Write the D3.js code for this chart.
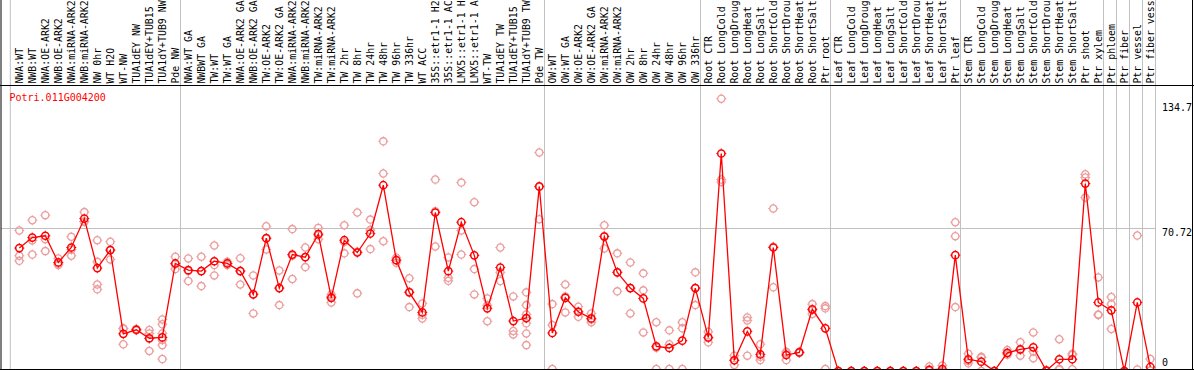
<!DOCTYPE html>
<html>
<head>
<meta charset="utf-8">
<script src="https://cdn.jsdelivr.net/npm/d3@7"></script>
<style>
  body { margin: 0; background: #fff; }
  text { font-family: "DejaVu Sans Mono", monospace; font-size: 10px; }
  text.lab { font-size: 9.9px; }
</style>
</head>
<body>
<div id="my_chart"></div>
<script>
// sample names, left to right (as printed, the long ones are cut)
var samples = ["NWA:WT","NWB:WT","NWA:OE-ARK2","NWB:OE-ARK2","NWA:miRNA-ARK2","NWB:miRNA-ARK2","NW 0hr","WT H2O","WT-NW","TUA1dEY NW","TUA1dEY+TUB15","TUA1dY+TUB9 NW","Pde NW",
  "NWA:WT GA","NWBWT GA","TW:WT","TW:WT GA","NWA:OE-ARK2 GA","NWB:OE-ARK2 GA","TW:OE-ARK2","TW:OE-ARK2 GA","NWA:miRNA-ARK2 ","NWB:miRNA-ARK2 ","TW:miRNA-ARK2","TW:miRNA-ARK2 ",
  "TW 2hr","TW 8hr","TW 24hr","TW 48hr","TW 96hr","TW 336hr","WT ACC","35S::etr1-1 H2","35S::etr1-1 AC","LMX5::etr1-1 H","LMX5::etr1-1 A","WT-TW","TUA1dEY TW","TUA1dEY+TUB15 ","TUA1dY+TUB9 TW","Pde TW",
  "OW:WT","OW:WT GA","OW:OE-ARK2","OW:OE-ARK2 GA","OW:miRNA-ARK2","OW:miRNA-ARK2 ","OW 2hr","OW 8hr","OW 24hr","OW 48hr","OW 96hr","OW 336hr",
  "Root CTR","Root LongCold","Root LongDroug","Root LongHeat","Root LongSalt","Root ShortCold","Root ShortDrou","Root ShortHeat","Root ShortSalt","Ptr root",
  "Leaf CTR","Leaf LongCold","Leaf LongDroug","Leaf LongHeat","Leaf LongSalt","Leaf ShortCold","Leaf ShortDrou","Leaf ShortHeat","Leaf ShortSalt","Ptr leaf",
  "Stem CTR","Stem LongCold","Stem LongDroug","Stem LongHeat","Stem LongSalt","Stem ShortCold","Stem ShortDrou","Stem ShortHeat","Stem ShortSalt","Ptr shoot",
  "Ptr xylem","Ptr phloem","Ptr fiber","Ptr vessel","Ptr fiber vess"];

// mean expression (red line)
var means = [60.8,66.0,66.9,53.7,61.1,75.4,50.9,59.8,18.4,20.4,16.2,16.6,53.2,
  49.9,49.4,54.3,53.2,49.4,37.9,65.7,41.0,57.6,56.3,67.7,36.2,
  64.7,58.6,68.0,91.9,54.8,38.9,29.0,78.4,49.4,73.6,57.2,31.0,51.2,24.7,26.2,91.3,
  18.8,36.2,29.3,26.0,66.5,48.8,41.0,35.9,12.2,11.4,15.0,41.0,
  16.6,107.6,5.3,19.6,8.2,61.1,7.9,9.2,30.5,21.1,
  0,0,0,0,0,0,0,0.6,0.9,57.3,
  5.8,4.6,0,9.0,10.7,11.7,0.2,5.8,5.8,92.7,
  33.9,30.0,0,33.9,2.0];

// replicate values (pale circles)
var replicates = [[69.5,57.0,54.5],[74.6,64.6,57.6],[77.1,65.2,59.3],[55.7,53.0,52.4],[66.4,60.0,57.0],[78.6,73.8,74.0],
  [64.7,54.0,42.8,40.4],[63.9,59.8,55.2],[21.1,20.9,13.2],[20.8,20.2,20.3],[20.3,18.6,16.0,9.9],[25.5,23.1,18.6,15.3,12.8,5.9],[56.5,52.8,50.4],
  [55.7,49.5,44.5],[56.5,49.5,42.0],[62.1,52.4,47.3],[54.0,53.2,52.4],[55.8,49.6,42.8],[47.3,38.0,28.5],[71.6,65.5,60.1],[49.7,41.0,32.6],
  [70.2,57.0,45.5],[61.1,56.4,51.4],[70.8,67.1,65.2],[37.9,36.8,33.9],[72.1,63.8,58.2],[78.4,59.0,38.4],[74.9,69.7,60.3],[113.6,97.7,64.2],
  [56.0,54.8,53.5],[45.9,39.2,31.6],[33.4,27.8,26.0],[94.7,79.0,61.6],[56.2,46.1,44.6],[93.2,69.5,57.6],[83.5,50.4,37.9],[35.9,32.5,24.6],
  [61.1,48.8,44.5],[36.9,19.8,18.1],[38.9,32.6,28.0,26.0,23.6,18.6,12.8],[108.1,91.0,75.1],
  [33.1,22.7,1.0],[42.8,36.8,29.0],[31.8,29.3,26.8],[28.5,25.5,24.1],[72.1,66.8,60.6],[58.2,48.8,39.4],[53.7,41.0,28.5],[48.3,39.9,19.1],
  [24.1,11.5,1.0],[20.1,13.2,1.0],[24.1,21.1,1.0],[48.8,41.0,32.6],
  [19.4,16.3,14.2],[134.7,94.7,93.5],[7.6,5.3,3.0],[26.5,25.0,7.6],[13.2,7.0,5.4],[80.4,61.5,41.4],[9.5,8.8,5.4],[9.5,9.0,9.1],[33.1,30.2,28.2],[32.1,31.0,1.0],
  [0,0,0],[0,0,0],[0,0,0],[0,0,0],[0,0,0],[0,0,0],[0,0,0],[2.2,0.2,0],[2.7,0,0],[73.6,66.7,31.6],
  [8.5,5.0,3.8],[7.0,6.6,0],[0,0,0],[10.4,8.6,8.1],[14.2,10.4,7.6],[19.1,9.7,6.3],[0.3,0.2,0],[15.7,1.0,0.7],[8.5,8.0,0.9],[97.3,95.7,85.8],
  [46.3,28.0,27.7],[36.6,33.1,20.8],[0,0,0],[67.0,0.8],[5.9,0.2]];

// last sample of each block, a grey separator follows it
var groupEnds = ["Pde NW","Pde TW","OW 336hr","Ptr root","Ptr leaf","Ptr xylem","Ptr phloem","Ptr fiber","Ptr vessel","Ptr fiber vess"];
var yTicks = [134.7, 70.72, 0];
var geneName = "Potri.011G004200";

var width = 1194, height = 370;
var plotTop = 85, plotBottom = 369;

var svg = d3.select("#my_chart")
  .append("svg")
    .attr("width", width)
    .attr("height", height);

svg.append("rect").attr("width", width).attr("height", height).attr("fill", "#fff");

var x = d3.scalePoint()
  .domain(samples)
  .range([19.3, 19.3 + 13 * (samples.length - 1)]);

var y = d3.scaleLinear()
  .domain([0, 134.7])
  .range([371, 98.7]);

var plotRight = x(samples[samples.length - 1]) + 5;

// grey vertical separators (full height)
svg.append("line")
  .attr("x1", x(samples[0]) - 9).attr("x2", x(samples[0]) - 9)
  .attr("y1", 0).attr("y2", plotBottom)
  .attr("stroke", "#c0c0c0");
svg.selectAll("line.sep")
  .data(groupEnds)
  .enter()
  .append("line")
    .attr("class", "sep")
    .attr("x1", function(d) { return Math.round(x(d) + 5) + 0.5; })
    .attr("x2", function(d) { return Math.round(x(d) + 5) + 0.5; })
    .attr("y1", 0)
    .attr("y2", plotBottom)
    .attr("stroke", "#c0c0c0");

// horizontal grid at middle tick
svg.append("line")
  .attr("x1", 1).attr("x2", plotRight)
  .attr("y1", Math.round(y(70.72)) + 0.5).attr("y2", Math.round(y(70.72)) + 0.5)
  .attr("stroke", "#c0c0c0");

// sample labels, rotated
svg.selectAll("text.lab")
  .data(samples)
  .enter()
  .append("text")
    .attr("class", "lab")
    .attr("transform", function(d) { return "translate(" + (x(d) + 4) + ",83.6)rotate(-90)"; })
    .attr("fill", "#000")
    .text(function(d) { return d.trim(); });

// frame
svg.append("line").attr("x1", 0).attr("x2", width).attr("y1", plotTop + 0.5).attr("y2", plotTop + 0.5).attr("stroke", "#000");
svg.append("line").attr("x1", 0).attr("x2", width).attr("y1", plotBottom + 0.5).attr("y2", plotBottom + 0.5).attr("stroke", "#000");
svg.append("line").attr("x1", 1).attr("x2", 1).attr("y1", 0).attr("y2", plotBottom).attr("stroke", "#000");
svg.append("line").attr("x1", width - 1.5).attr("x2", width - 1.5).attr("y1", 0).attr("y2", plotBottom).attr("stroke", "#000");

// y tick labels on the right
svg.selectAll("text.tick")
  .data(yTicks)
  .enter()
  .append("text")
    .attr("class", "tick")
    .attr("x", 1162)
    .attr("y", function(d) { return Math.min(Math.max(y(d) + 4, 107.7), 362); })
    .attr("dy", "0.35em")
    .attr("fill", "#000")
    .text(function(d) { return d; });

svg.append("text")
  .attr("x", 9.5)
  .attr("y", 97)
  .attr("dy", "0.35em")
  .attr("fill", "#ff0000")
  .text(geneName);

// clip to plot area
svg.append("clipPath").attr("id", "plotclip")
  .append("rect").attr("x", 2).attr("y", plotTop + 1).attr("width", width - 4).attr("height", plotBottom - plotTop - 1);

var g = svg.append("g").attr("clip-path", "url(#plotclip)");

function marker(sel, color, w) {
  sel.append("circle")
    .attr("r", 3.6)
    .attr("fill", "none")
    .attr("stroke", color)
    .attr("stroke-width", w);
  // small ticks around the ring
  [[0,-1],[0,1],[-1,0],[1,0]].forEach(function(p) {
    sel.append("line")
      .attr("x1", p[0] * 3.6).attr("y1", p[1] * 3.6)
      .attr("x2", p[0] * 5).attr("y2", p[1] * 5)
      .attr("stroke", color)
      .attr("stroke-width", 1);
  });
}

var repPoints = [];
samples.forEach(function(s, i) {
  replicates[i].forEach(function(v) { repPoints.push({ s: s, v: v }); });
});

var reps = g.selectAll("g.rep")
  .data(repPoints)
  .enter()
  .append("g")
    .attr("class", "rep")
    .attr("transform", function(d) { return "translate(" + x(d.s) + "," + y(d.v) + ")"; });
marker(reps, "#ec9c9c", 1.3);

var line = d3.line()
  .x(function(d, i) { return x(samples[i]); })
  .y(function(d) { return y(d); });

g.append("path")
  .datum(means)
  .attr("d", line)
  .attr("fill", "none")
  .attr("stroke", "#ff0000")
  .attr("stroke-width", 1.3);

var pts = g.selectAll("g.mean")
  .data(means)
  .enter()
  .append("g")
    .attr("class", "mean")
    .attr("transform", function(d, i) { return "translate(" + x(samples[i]) + "," + y(d) + ")"; });
marker(pts, "#ff0000", 1.5);
</script>
</body>
</html>
